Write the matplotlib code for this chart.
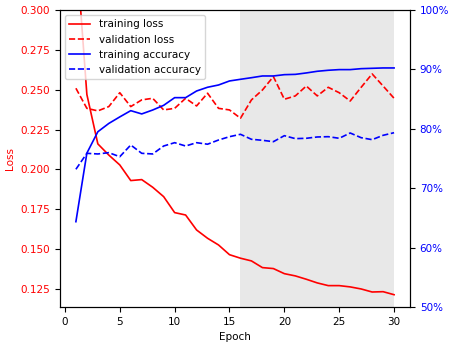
import matplotlib
matplotlib.use('Agg')
import matplotlib.pyplot as plt
from matplotlib.ticker import PercentFormatter

plt.rcParams['font.size'] = 7.5

epochs = list(range(1, 31))

train_loss = [0.341, 0.2470, 0.2160, 0.2090, 0.2028, 0.1930, 0.1936, 0.1888, 0.1829, 0.1729,
              0.1714, 0.1620, 0.1568, 0.1526, 0.1465, 0.1443, 0.1426, 0.1384, 0.1378, 0.1346,
              0.1332, 0.1311, 0.1288, 0.1271, 0.1271, 0.1263, 0.1250, 0.1231, 0.1233, 0.1214]
val_loss = [0.2509, 0.2383, 0.2367, 0.2394, 0.2481, 0.2394, 0.2436, 0.2446, 0.2373, 0.2383,
            0.2446, 0.2398, 0.2478, 0.2383, 0.2373, 0.2321, 0.2436, 0.2498, 0.2582, 0.2440,
            0.2461, 0.2523, 0.2461, 0.2515, 0.2481, 0.2429, 0.2515, 0.2599, 0.2523, 0.2446]
train_acc = [0.6436, 0.7590, 0.7950, 0.8090, 0.8200, 0.8305, 0.8250, 0.8316, 0.8395, 0.8524,
             0.8524, 0.8636, 0.8699, 0.8737, 0.8805, 0.8833, 0.8860, 0.8889, 0.8889, 0.8911,
             0.8916, 0.8940, 0.8968, 0.8985, 0.8996, 0.8996, 0.9012, 0.9018, 0.9024, 0.9024]
val_acc = [0.7318, 0.7587, 0.7576, 0.7598, 0.7530, 0.7727, 0.7587, 0.7576, 0.7710, 0.7766,
           0.7710, 0.7766, 0.7740, 0.7811, 0.7867, 0.7907, 0.7823, 0.7806, 0.7783, 0.7884,
           0.7834, 0.7840, 0.7862, 0.7867, 0.7840, 0.7929, 0.7850, 0.7817, 0.7890, 0.7934]

# epochs after the best checkpoint get shaded
shade_start, shade_end = 16, 30

fig, ax1 = plt.subplots(figsize=(4.49, 3.44), dpi=100)
fig.subplots_adjust(left=0.1336, right=0.9131, top=0.971, bottom=0.1076)

ax1.axvspan(shade_start, shade_end, color='lightgray', alpha=0.5, lw=0)
l1, = ax1.plot(epochs, train_loss, color='red', linewidth=1.2, label='training loss')
l2, = ax1.plot(epochs, val_loss, color='red', linewidth=1.2, linestyle='--', label='validation loss')
ax1.set_ylim(0.1137, 0.300)
ax1.set_xlabel('Epoch')
ax1.set_ylabel('Loss', color='red')
ax1.tick_params(axis='y', labelcolor='red')

ax2 = ax1.twinx()
l3, = ax2.plot(epochs, train_acc, color='blue', linewidth=1.2, label='training accuracy')
l4, = ax2.plot(epochs, val_acc, color='blue', linewidth=1.2, linestyle='--', label='validation accuracy')
ax2.set_ylim(0.5, 1.0)
ax2.yaxis.set_major_formatter(PercentFormatter(xmax=1, decimals=0))
ax2.tick_params(axis='y', labelcolor='blue')

ax2.legend(handles=[l1, l2, l3, l4], loc='upper left')

plt.savefig('out.png')
